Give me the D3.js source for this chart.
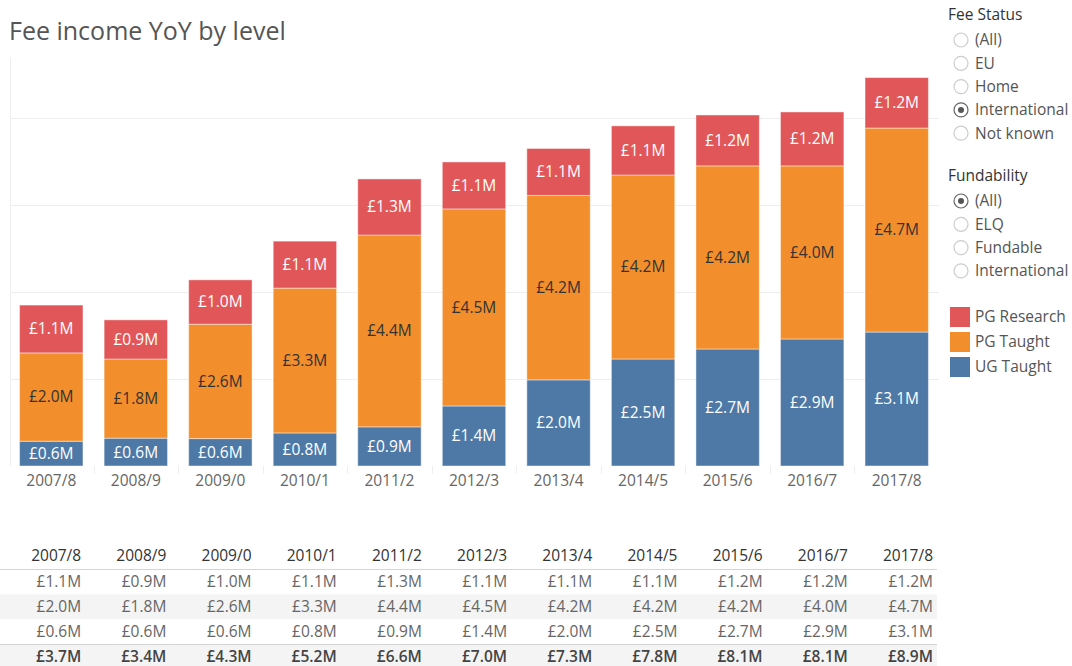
<!DOCTYPE html>
<html>
<head>
<meta charset="utf-8">
<script src="https://cdn.jsdelivr.net/npm/d3@7"></script>
<style>
  body { margin: 0; background: #fff; }
  svg { display: block; font-family: "Open Sans", sans-serif; }
</style>
</head>
<body>
<svg id="chart" width="1072" height="666"></svg>
<script>
// data (values in £M)
var years = ["2007/8", "2008/9", "2009/0", "2010/1", "2011/2", "2012/3", "2013/4", "2014/5", "2015/6", "2016/7", "2017/8"];
var ugTaught   = [0.57, 0.64, 0.63, 0.76, 0.90, 1.38, 1.98, 2.46, 2.69, 2.92, 3.08];
var pgTaught   = [2.03, 1.82, 2.63, 3.33, 4.41, 4.53, 4.24, 4.23, 4.21, 3.98, 4.69];
var pgResearch = [1.10, 0.90, 1.02, 1.08, 1.29, 1.08, 1.08, 1.13, 1.17, 1.24, 1.16];
var gridTicks = [2, 4, 6, 8];

var feeStatus = ["(All)", "EU", "Home", "International", "Not known"];
var fundability = ["(All)", "ELQ", "Fundable", "International"];

var levels = ["UG Taught", "PG Taught", "PG Research"];
var colors = { "PG Research": "#e15759", "PG Taught": "#f28e2b", "UG Taught": "#4e79a7" };
var labelColors = { "PG Research": "#fff", "PG Taught": "#333", "UG Taught": "#fff" };

var rows = years.map(function(y, i) {
    return { year: y, "UG Taught": ugTaught[i], "PG Taught": pgTaught[i], "PG Research": pgResearch[i] };
});

var fmt = function(v) { return "£" + v.toFixed(1) + "M"; };
var fs = "15.5px"; // general text size

var svg = d3.select("#chart");

// title
svg.append("text")
    .attr("x", 9)
    .attr("y", 40)
    .attr("fill", "#555")
    .style("font-size", "25px")
    .text("Fee income YoY by level");

var x = d3.scaleBand()
    .domain(years)
    .range([9, 939])
    .paddingInner(0.25)
    .paddingOuter(0.125);

var y = d3.scaleLinear()
    .domain([0, 9.38])
    .range([466, 58]);

// gridlines
svg.append("g").selectAll("line")
    .data(gridTicks)
    .enter().append("line")
    .attr("x1", 10).attr("x2", 939)
    .attr("y1", function(d) { return y(d) + 0.5; })
    .attr("y2", function(d) { return y(d) + 0.5; })
    .attr("stroke", "#eeeeee");

svg.append("line")
    .attr("x1", 10.5).attr("x2", 10.5)
    .attr("y1", 58).attr("y2", 466)
    .attr("stroke", "#eeeeee");

var stack = d3.stack().keys(levels);
var series = stack(rows);

var g = svg.append("g");
series.forEach(function(s) {
    var key = s.key;
    var grp = g.append("g");
    grp.selectAll("rect")
        .data(s)
        .enter().append("rect")
        .attr("x", function(d) { return x(d.data.year); })
        .attr("width", x.bandwidth())
        .attr("y", function(d) { return y(d[1]); })
        .attr("height", function(d) { return y(d[0]) - y(d[1]); })
        .attr("fill", colors[key])
        .attr("stroke", "rgba(255,255,255,0.45)")
        .attr("stroke-width", 1);
    grp.selectAll("text")
        .data(s)
        .enter().append("text")
        .attr("x", function(d) { return x(d.data.year) + x.bandwidth() / 2; })
        .attr("y", function(d) { return (y(d[0]) + y(d[1])) / 2; })
        .attr("dy", "0.35em")
        .attr("text-anchor", "middle")
        .attr("fill", labelColors[key])
        .style("font-size", fs)
        .text(function(d) { return fmt(d.data[key]); });
});

// x axis
var xAxis = svg.append("g")
    .attr("transform", "translate(0,466)")
    .call(d3.axisBottom(x).tickSize(0).tickPadding(9));
xAxis.select(".domain").remove();
xAxis.selectAll("text")
    .attr("fill", "#666")
    .style("font-size", fs)
    .style("font-family", "Open Sans, sans-serif");
svg.append("g").selectAll("line")
    .data(years.slice(1))
    .enter().append("line")
    .attr("x1", function(d) { return Math.round(x(d) - x.step() * x.paddingInner() / 2) + 0.5; })
    .attr("x2", function(d) { return Math.round(x(d) - x.step() * x.paddingInner() / 2) + 0.5; })
    .attr("y1", 466).attr("y2", 474)
    .attr("stroke", "#eeeeee");

// filters on the right
function radioGroup(title, items, selected, top) {
    var grp = svg.append("g");
    grp.append("text")
        .attr("x", 948).attr("y", top)
        .attr("dy", "0.35em")
        .attr("fill", "#333")
        .style("font-size", fs)
        .text(title);
    var it = grp.selectAll("g.item")
        .data(items)
        .enter().append("g")
        .attr("transform", function(d, i) { return "translate(961," + (top + 25 + i * 23.3) + ")"; });
    it.append("circle")
        .attr("r", 7)
        .attr("fill", "#fff")
        .attr("stroke", function(d) { return d === selected ? "#666" : "#ccc"; })
        .attr("stroke-width", 1.2);
    it.filter(function(d) { return d === selected; })
        .append("circle")
        .attr("r", 3)
        .attr("fill", "#555");
    it.append("text")
        .attr("x", 14)
        .attr("dy", "0.35em")
        .attr("fill", "#555")
        .style("font-size", fs)
        .text(function(d) { return d; });
}
radioGroup("Fee Status", feeStatus, "International", 15);
radioGroup("Fundability", fundability, "(All)", 176);

// colour legend
var legendKeys = ["PG Research", "PG Taught", "UG Taught"];
var lg = svg.append("g").selectAll("g")
    .data(legendKeys)
    .enter().append("g")
    .attr("transform", function(d, i) { return "translate(950," + (317 + i * 25) + ")"; });
lg.append("rect")
    .attr("x", 0).attr("y", -10)
    .attr("width", 20).attr("height", 20)
    .attr("fill", function(d) { return colors[d]; });
lg.append("text")
    .attr("x", 25)
    .attr("dy", "0.35em")
    .attr("fill", "#555")
    .style("font-size", fs)
    .text(function(d) { return d; });

// table below
var col = d3.scaleBand().domain(years).range([0, 937]);
var tableRows = [
    { vals: pgResearch, bold: false, bg: "#fff" },
    { vals: pgTaught, bold: false, bg: "#f4f4f4" },
    { vals: ugTaught, bold: false, bg: "#fff" },
    { vals: years.map(function(yr, i) { return ugTaught[i] + pgTaught[i] + pgResearch[i]; }), bold: true, bg: "#f4f4f4" }
];
var tb = svg.append("g");
tb.selectAll("text.head")
    .data(years)
    .enter().append("text")
    .attr("x", function(d) { return col(d) + col.bandwidth() - 4; })
    .attr("y", 556)
    .attr("dy", "0.35em")
    .attr("text-anchor", "end")
    .attr("fill", "#333")
    .style("font-size", fs)
    .text(function(d) { return d; });

tableRows.forEach(function(r, ri) {
    var cy = 582 + ri * 25;
    tb.append("rect")
        .attr("x", 0).attr("y", cy - 12.5)
        .attr("width", 937).attr("height", 25)
        .attr("fill", r.bg);
    tb.selectAll("text.r" + ri)
        .data(r.vals)
        .enter().append("text")
        .attr("x", function(d, i) { return col(years[i]) + col.bandwidth() - 4; })
        .attr("y", cy)
        .attr("dy", "0.35em")
        .attr("text-anchor", "end")
        .attr("fill", r.bold ? "#444" : "#666")
        .style("font-size", fs)
        .style("font-weight", r.bold ? "600" : "normal")
        .text(function(d) { return fmt(d); });
});
tb.append("line")
    .attr("x1", 0).attr("x2", 937)
    .attr("y1", 569.5).attr("y2", 569.5)
    .attr("stroke", "#d4d4d4");
tb.append("line")
    .attr("x1", 0).attr("x2", 937)
    .attr("y1", 644.5).attr("y2", 644.5)
    .attr("stroke", "#d4d4d4");
</script>
</body>
</html>
